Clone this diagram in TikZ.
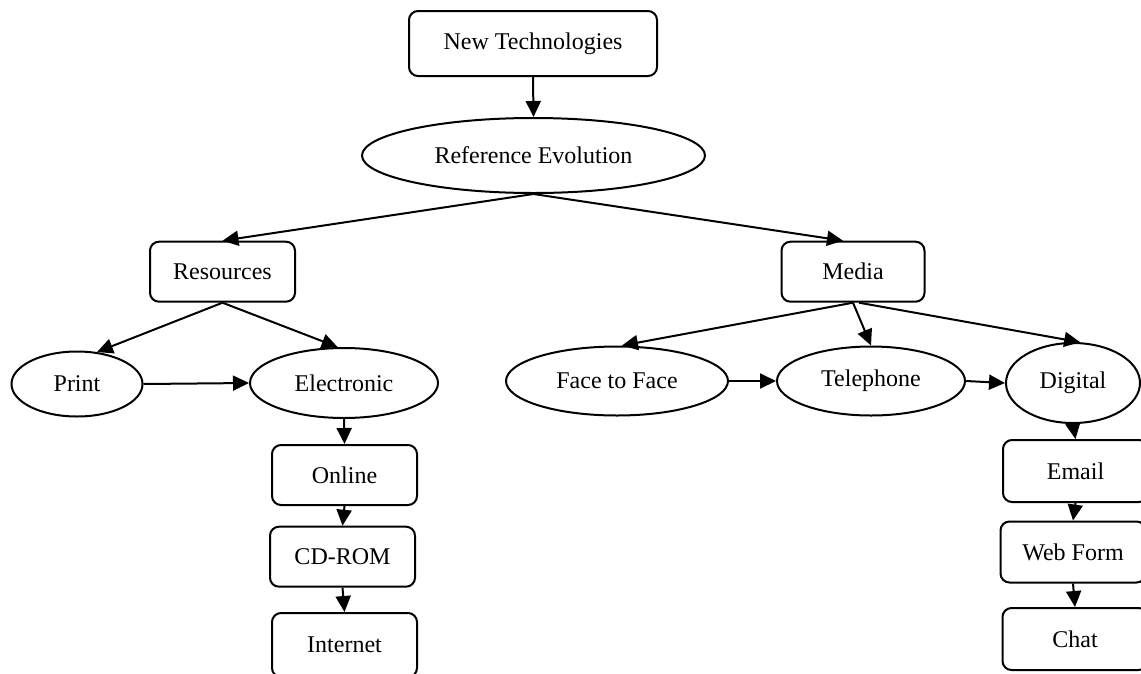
\documentclass[tikz,border=0pt]{standalone}
\usepackage{fontspec}
\setmainfont{Liberation Serif}
\usetikzlibrary{shapes.geometric,arrows.meta}
\begin{document}
\begin{tikzpicture}[x=1pt,y=-1pt,
  every node/.style={font=\fontsize{24}{28}\selectfont, inner sep=0pt},
  rbox/.style={draw, line width=2pt, rounded corners=9pt, rectangle},
  oval/.style={draw, line width=2pt, ellipse},
  arr/.style={line width=2pt, -{Triangle[length=16pt,width=15pt]}}
]
\useasboundingbox (0,0) rectangle (1141,673);
% nodes
\node[rbox, minimum width=248pt, minimum height=65pt] (nt) at (533,43.5) {New Technologies};
\node[oval, minimum width=343pt, minimum height=75pt] (re) at (533.5,155.5) {Reference Evolution};
\node[rbox, minimum width=145pt, minimum height=60pt] (res) at (222.5,271.7) {Resources};
\node[rbox, minimum width=143pt, minimum height=60pt] (med) at (853,271.7) {Media};
\node[oval, minimum width=131pt, minimum height=65pt] (pr) at (77,384) {Print};
\node[oval, minimum width=188pt, minimum height=70pt] (el) at (344,383) {Electronic};
\node[rbox, minimum width=145pt, minimum height=60pt] (on) at (344.5,475) {Online};
\node[rbox, minimum width=145pt, minimum height=60pt] (cd) at (342.5,556.7) {CD-ROM};
\node[rbox, minimum width=145pt, minimum height=64pt] (in) at (344.5,645) {Internet};
\node[oval, minimum width=222pt, minimum height=69pt] (ff) at (617,381) {Face to Face};
\node[oval, minimum width=188pt, minimum height=69pt] (te) at (871,381) {Telephone};
\node[oval, minimum width=134pt, minimum height=80pt] (dg) at (1073,383) {Digital};
\node[rbox, minimum width=145pt, minimum height=62pt] (em) at (1075.5,471) {Email};
\node[rbox, minimum width=145pt, minimum height=61pt] (wf) at (1073,552) {Web Form};
\node[rbox, minimum width=145pt, minimum height=62pt] (ch) at (1075,639) {Chat};
% connectors
\draw[arr] (nt.south) -- (re.north);
\draw[arr] (re.south) -- (res.north);
\draw[arr] (re.south) -- ([xshift=-10pt]med.north);
\draw[arr] (res.south) -- (pr.58);
\draw[arr] (res.south) -- (el.100);
\draw[arr] (pr.east) -- (el.west);
\draw[arr] (el.south) -- (on.north);
\draw[arr] (on.south) -- (cd.north);
\draw[arr] (cd.south) -- (in.north);
\draw[arr] (med.south) -- (ff.82);
\draw[arr] (med.south) -- (te.north);
\draw[arr] ([xshift=6pt]med.south) -- (dg.80);
\draw[arr] (ff.east) -- (te.west);
\draw[arr] (te.east) -- (dg.west);
\draw[arr] (dg.south) -- (em.north);
\draw[arr] (em.south) -- (wf.north);
\draw[arr] (wf.south) -- (ch.north);
\end{tikzpicture}
\end{document}
